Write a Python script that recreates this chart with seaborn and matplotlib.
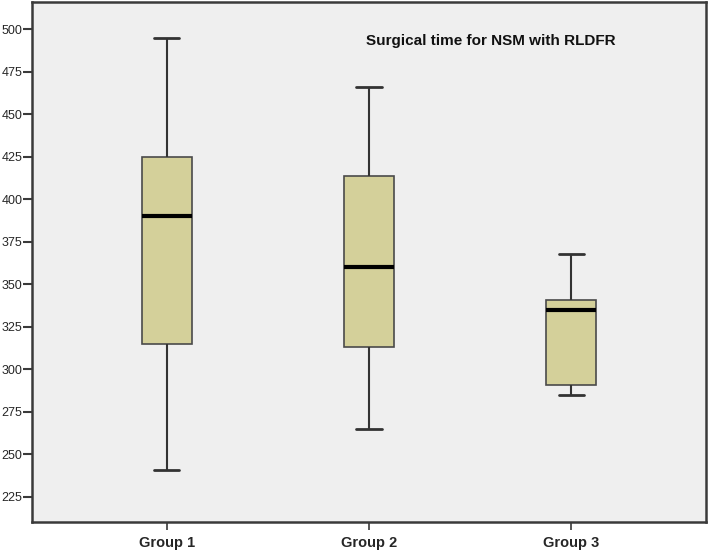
import pandas as pd
import matplotlib.pyplot as plt
import seaborn as sns

# five-number summaries (min, Q1, median, Q3, max)
groups = ['Group 1', 'Group 2', 'Group 3']
group1 = [241, 315, 390, 425, 495]
group2 = [265, 313, 360, 414, 466]
group3 = [285, 291, 335, 341, 368]
title = 'Surgical time for NSM with RLDFR'

df = pd.DataFrame({
    'group': [groups[0]] * len(group1) + [groups[1]] * len(group2) + [groups[2]] * len(group3),
    'time': group1 + group2 + group3,
})

sns.set_style('white')
plt.rcParams['font.family'] = ['Liberation Sans', 'DejaVu Sans']

fig = plt.figure(figsize=(7.09, 5.53), dpi=100)
ax = fig.add_axes([32 / 709, 31 / 553, 674 / 709, 520 / 553])
ax.set_facecolor('#efefef')

sns.boxplot(data=df, x='group', y='time', order=groups, width=0.25, whis=(0, 100),
            color='#d4d09a', saturation=1, ax=ax,
            boxprops=dict(edgecolor='#4a4a4a', linewidth=1.2),
            whiskerprops=dict(color='#333333', linewidth=1.5),
            capprops=dict(color='#333333', linewidth=2),
            medianprops=dict(color='black', linewidth=3))

ax.set_xlim(-0.667, 2.667)
ax.set_ylim(210.3, 516)
ax.set_yticks(range(225, 501, 25))
ax.set_xlabel('')
ax.set_ylabel('')

for spine in ax.spines.values():
    spine.set_visible(True)
    spine.set_color('#3a3a3a')
    spine.set_linewidth(1.8)

ax.tick_params(axis='y', left=True, length=6.5, width=1.5, color='#3a3a3a', labelsize=9, pad=0.5)
ax.tick_params(axis='x', bottom=True, length=6, width=1.2, color='#3a3a3a', labelsize=10.5, pad=4)
for lbl in ax.get_xticklabels():
    lbl.set_fontweight('bold')

ax.text(0.68, 0.925, title, transform=ax.transAxes, ha='center', va='center',
        fontsize=11, fontweight='bold', color='#111111')

plt.savefig('out.png', dpi=100)
